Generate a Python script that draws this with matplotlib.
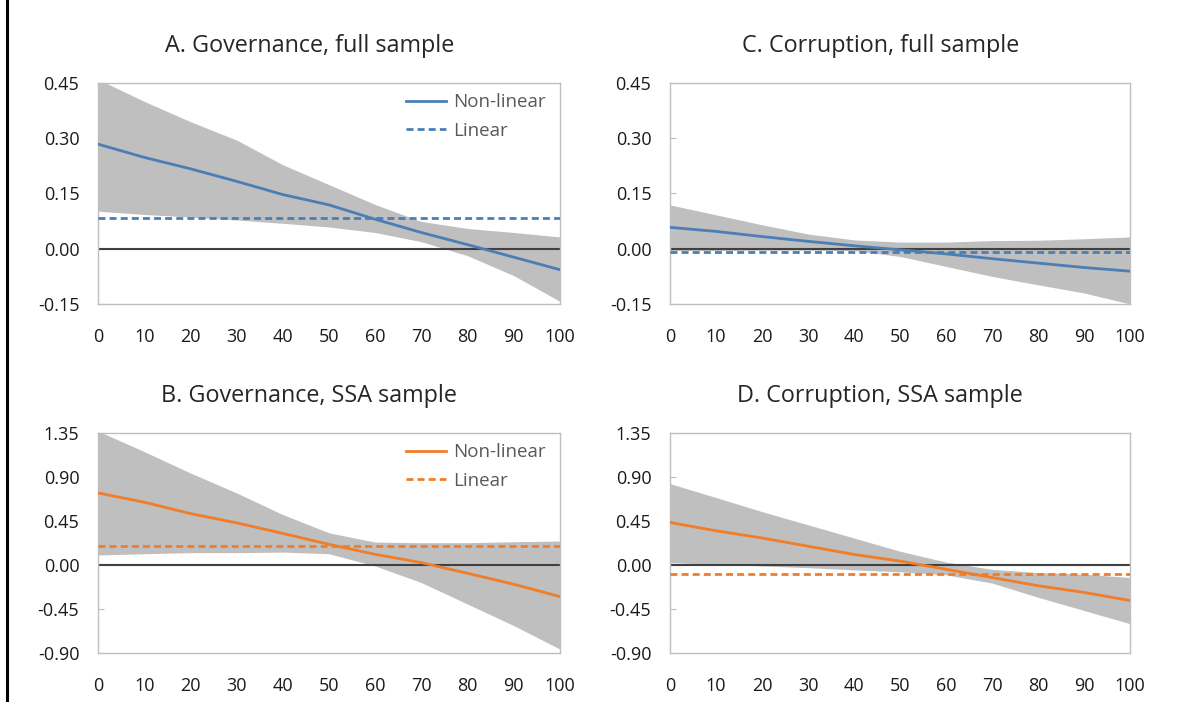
import matplotlib.pyplot as plt
import numpy as np

plt.rcParams['font.family'] = ['Open Sans', 'DejaVu Sans']

x = [0, 10, 20, 30, 40, 50, 60, 70, 80, 90, 100]

# A. Governance, full sample
gov_full_mid = [0.284, 0.248, 0.217, 0.183, 0.147, 0.119, 0.080, 0.044, 0.011, -0.023, -0.057]
gov_full_hi = [0.46, 0.40, 0.345, 0.295, 0.228, 0.174, 0.120, 0.074, 0.055, 0.044, 0.032]
gov_full_lo = [0.102, 0.093, 0.086, 0.078, 0.069, 0.059, 0.044, 0.019, -0.019, -0.073, -0.143]
gov_full_lin = 0.084

# C. Corruption, full sample
cor_full_mid = [0.058, 0.047, 0.033, 0.020, 0.008, -0.003, -0.014, -0.027, -0.039, -0.051, -0.061]
cor_full_hi = [0.119, 0.092, 0.065, 0.040, 0.024, 0.018, 0.018, 0.022, 0.023, 0.027, 0.032]
cor_full_lo = [-0.005, -0.005, -0.004, -0.004, -0.005, -0.021, -0.048, -0.075, -0.098, -0.120, -0.150]
cor_full_lin = -0.009

# B. Governance, SSA sample
gov_ssa_mid = [0.737, 0.642, 0.526, 0.431, 0.323, 0.211, 0.109, 0.024, -0.085, -0.197, -0.323]
gov_ssa_hi = [1.37, 1.16, 0.941, 0.737, 0.516, 0.329, 0.234, 0.228, 0.228, 0.238, 0.245]
gov_ssa_lo = [0.102, 0.115, 0.126, 0.126, 0.132, 0.115, -0.01, -0.18, -0.40, -0.62, -0.86]
gov_ssa_lin = 0.197

# D. Corruption, SSA sample
cor_ssa_mid = [0.435, 0.35, 0.276, 0.192, 0.108, 0.040, -0.044, -0.128, -0.212, -0.28, -0.364]
cor_ssa_hi = [0.832, 0.69, 0.546, 0.411, 0.276, 0.141, 0.030, -0.044, -0.077, -0.094, -0.128]
cor_ssa_lo = [0.024, 0.007, -0.01, -0.027, -0.05, -0.07, -0.10, -0.185, -0.33, -0.465, -0.60]
cor_ssa_lin = -0.091

titles = ['A. Governance, full sample', 'C. Corruption, full sample',
          'B. Governance, SSA sample', 'D. Corruption, SSA sample']
yticks_full = [-0.15, 0.00, 0.15, 0.30, 0.45]
yticks_ssa = [-0.90, -0.45, 0.00, 0.45, 0.90, 1.35]
xticks = [0, 10, 20, 30, 40, 50, 60, 70, 80, 90, 100]

blue = '#4A7EB5'
orange = '#F07D2A'
band = '#BFBFBF'

fig = plt.figure(figsize=(12.04, 7.02), dpi=100)
fig.add_artist(plt.Line2D([0.0058, 0.0058], [0, 1], color='black', lw=2.2))

panels = [
    ([0.0814, 0.567, 0.3837, 0.3148], gov_full_mid, gov_full_hi, gov_full_lo, gov_full_lin, blue, yticks_full, titles[0], True),
    ([0.5565, 0.567, 0.382, 0.3148], cor_full_mid, cor_full_hi, cor_full_lo, cor_full_lin, blue, yticks_full, titles[1], False),
    ([0.0814, 0.0698, 0.3837, 0.3134], gov_ssa_mid, gov_ssa_hi, gov_ssa_lo, gov_ssa_lin, orange, yticks_ssa, titles[2], True),
    ([0.5565, 0.0698, 0.382, 0.3134], cor_ssa_mid, cor_ssa_hi, cor_ssa_lo, cor_ssa_lin, orange, yticks_ssa, titles[3], False),
]

for pos, mid, hi, lo, lin, col, yt, title, show_leg in panels:
    ax = fig.add_axes(pos)
    ax.fill_between(x, lo, hi, color=band, lw=0, zorder=1)
    ax.axhline(0, color='#404040', lw=1.5, zorder=2)
    ax.plot(x, mid, color=col, lw=2, zorder=3, label='Non-linear')
    ax.plot(x, [lin] * len(x), color=col, lw=2, ls=(0, (2.5, 1.5)), zorder=3, label='Linear')
    ax.set_xlim(0, 100)
    ax.set_ylim(yt[0], yt[-1])
    ax.set_yticks(yt)
    ax.set_yticklabels(['%.2f' % v for v in yt])
    ax.set_xticks(xticks)
    for s in ax.spines.values():
        s.set_color('#BFBFBF')
        s.set_linewidth(1)
    ax.tick_params(axis='y', direction='in', length=4, color='#BFBFBF', labelsize=13,
                   labelcolor='#1a1a1a', pad=13.5)
    ax.tick_params(axis='x', length=0, labelsize=13, labelcolor='#1a1a1a', pad=17)
    ax.set_title(title, fontsize=16.8, color='#262626', pad=22, x=0.457)
    if show_leg:
        ax.legend(loc='upper right', frameon=False, fontsize=13.5, labelcolor='#595959',
                  handlelength=2.1, handletextpad=0.37, labelspacing=0.55,
                  bbox_to_anchor=(1.005, 1.03))

fig.savefig('out.png', dpi=100)
